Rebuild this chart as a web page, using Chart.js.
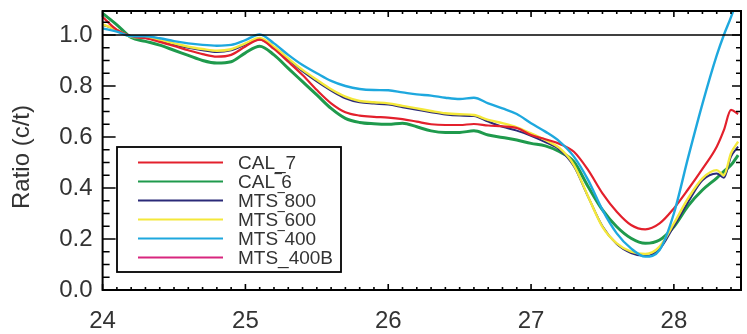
<!DOCTYPE html>
<html>
<head>
<meta charset="utf-8">
<script src="https://cdn.jsdelivr.net/npm/chart.js@4"></script>
<style>
  html, body { margin: 0; padding: 0; background: #ffffff; }
  #c { display: block; }
</style>
</head>
<body>
<canvas id="c" width="747" height="334"></canvas>
<script>
// ---- data ----
const xValues = [24.0,24.1,24.2,24.3,24.4,24.5,24.6,24.7,24.8,24.9,
                 25.0,25.1,25.2,25.3,25.4,25.5,25.6,25.7,25.8,25.9,
                 26.0,26.1,26.2,26.3,26.4,26.5,26.6,26.7,26.8,26.9,
                 27.0,27.1,27.2,27.3,27.4,27.5,27.6,27.7,27.8,27.9,
                 28.0,28.1,28.2,28.3,28.35,28.4,28.45];

const cal7 = [1.07,1.02,0.995,0.987,0.973,0.957,0.94,0.925,0.915,0.922,
              0.955,0.982,0.945,0.895,0.843,0.784,0.732,0.697,0.684,0.679,
              0.676,0.67,0.66,0.65,0.647,0.647,0.651,0.645,0.642,0.635,
              0.608,0.591,0.573,0.542,0.47,0.379,0.307,0.255,0.238,0.261,
              0.32,0.395,0.475,0.562,0.627,0.706,0.69];

const cal6 = [1.085,1.04,0.99,0.975,0.96,0.94,0.92,0.90,0.89,0.895,
              0.93,0.956,0.922,0.869,0.817,0.765,0.712,0.673,0.657,0.652,
              0.65,0.654,0.64,0.624,0.618,0.618,0.624,0.608,0.598,0.588,
              0.575,0.565,0.542,0.503,0.405,0.314,0.248,0.203,0.183,0.196,
              0.248,0.33,0.392,0.439,0.465,0.49,0.529];

const mts800 = [1.04,1.02,0.993,0.988,0.977,0.963,0.95,0.94,0.933,0.94,
                0.962,0.982,0.95,0.905,0.858,0.818,0.782,0.752,0.736,0.731,
                0.727,0.717,0.707,0.697,0.688,0.684,0.682,0.66,0.64,0.625,
                0.605,0.58,0.55,0.485,0.365,0.25,0.18,0.145,0.133,0.16,
                0.25,0.345,0.43,0.457,0.44,0.523,0.562];

const mts600 = [1.042,1.02,0.993,0.99,0.98,0.967,0.954,0.945,0.938,0.944,
                0.967,0.988,0.954,0.908,0.863,0.824,0.787,0.758,0.741,0.736,
                0.732,0.722,0.712,0.702,0.693,0.689,0.686,0.667,0.654,0.638,
                0.614,0.588,0.556,0.49,0.366,0.248,0.183,0.15,0.141,0.17,
                0.261,0.36,0.438,0.47,0.45,0.536,0.582];

const mts400 = [1.026,1.013,0.995,0.995,0.987,0.976,0.967,0.961,0.958,0.961,
                0.98,1.002,0.967,0.922,0.882,0.85,0.82,0.80,0.788,0.784,
                0.783,0.775,0.767,0.762,0.754,0.749,0.754,0.732,0.712,0.69,
                0.654,0.621,0.582,0.523,0.431,0.314,0.222,0.163,0.131,0.157,
                0.30,0.52,0.73,0.92,1.0,1.07,1.15];

const mts400b = []; // listed in the legend, not visible in the plot

const seriesLabels = ["CAL_7", "CAL\u203E6", "MTS\u203E800", "MTS\u203E600", "MTS\u203E400", "MTS_400B"];
const xTickValues = [24, 25, 26, 27, 28];
const yTickValues = [0.0, 0.2, 0.4, 0.6, 0.8, 1.0];
const yTitle = "Ratio (c/t)";
const refLineValue = 1.0;

// ---- styling ----
const colors = ["#e3202c", "#1f9a4c", "#2b2a78", "#f4e83a", "#1ea8de", "#d8267e"];
const widths = [2.2, 3.0, 2.0, 2.4, 2.4, 2.0];
const orders = [2, 5, 4, 3, 1, 6];
const FONT = "'Liberation Sans', Arial, Helvetica, sans-serif";
const TEXT = "#333333";

function pts(arr) { return arr.map((y, i) => ({ x: xValues[i], y: y })); }
const seriesData = [cal7, cal6, mts800, mts600, mts400, mts400b];

const datasets = seriesData.map((arr, i) => ({
  label: seriesLabels[i],
  data: pts(arr),
  borderColor: colors[i],
  backgroundColor: colors[i],
  borderWidth: widths[i],
  pointRadius: 0,
  fill: false,
  cubicInterpolationMode: 'monotone',
  order: orders[i]
}));

const framePlugin = {
  id: 'frame',
  afterDatasetsDraw(chart) {
    const ctx = chart.ctx;
    const a = chart.chartArea;
    const xs = chart.scales.x, ys = chart.scales.y;
    ctx.save();
    ctx.strokeStyle = "#000";
    // reference line
    ctx.lineWidth = 1.6;
    const yr = ys.getPixelForValue(refLineValue);
    ctx.beginPath(); ctx.moveTo(a.left, yr); ctx.lineTo(a.right, yr); ctx.stroke();
    // frame
    ctx.lineWidth = 2;
    ctx.strokeRect(a.left, a.top, a.right - a.left, a.bottom - a.top);
    // y ticks (minor every 0.05)
    ctx.lineWidth = 1.6;
    for (let i = 0; i <= 21; i++) {
      const v = i * 0.05;
      if (v > ys.max) break;
      const p = ys.getPixelForValue(v);
      const major = (i % 4 === 0);
      const lL = major ? 13 : 7, lR = major ? 9 : 5;
      ctx.beginPath();
      ctx.moveTo(a.left, p); ctx.lineTo(a.left + lL, p);
      ctx.moveTo(a.right, p); ctx.lineTo(a.right - lR, p);
      ctx.stroke();
    }
    // x ticks (minor every 0.1)
    for (let i = 0; i <= 45; i++) {
      const v = 24 + i * 0.1;
      if (v > xs.max + 1e-9) break;
      const p = xs.getPixelForValue(v);
      const major = (i % 10 === 0);
      const l = major ? 6 : 3;
      ctx.beginPath();
      ctx.moveTo(p, a.bottom); ctx.lineTo(p, a.bottom - l);
      ctx.moveTo(p, a.top); ctx.lineTo(p, a.top + l);
      ctx.stroke();
    }
    // y title
    ctx.fillStyle = TEXT;
    ctx.font = "24px " + FONT;
    ctx.textAlign = 'center';
    ctx.textBaseline = 'middle';
    ctx.translate(22, 157);
    ctx.rotate(-Math.PI / 2);
    ctx.fillText(yTitle, 0, 0);
    ctx.restore();

    // legend box
    ctx.save();
    const bx = 117, by = 147, bw = 224, bh = 125;
    ctx.fillStyle = "#fff";
    ctx.fillRect(bx, by, bw, bh);
    ctx.strokeStyle = "#000";
    ctx.lineWidth = 1.8;
    ctx.strokeRect(bx, by, bw, bh);
    ctx.font = "19px " + FONT;
    ctx.textAlign = 'left';
    ctx.textBaseline = 'middle';
    chart.data.datasets.forEach((ds, i) => {
      const y = 162.5 + i * 19;
      ctx.strokeStyle = ds.borderColor;
      ctx.lineWidth = 2;
      ctx.beginPath(); ctx.moveTo(138, y); ctx.lineTo(223, y); ctx.stroke();
      ctx.fillStyle = TEXT;
      ctx.fillText(ds.label, 238, y + 1);
    });
    ctx.restore();
  }
};

new Chart(document.getElementById('c'), {
  type: 'line',
  data: { datasets: datasets },
  options: {
    responsive: false,
    animation: false,
    devicePixelRatio: 1,
    layout: { padding: { top: 11, right: 6, left: 0, bottom: 0 } },
    plugins: { legend: { display: false }, tooltip: { enabled: false } },
    scales: {
      x: {
        type: 'linear',
        min: 24, max: 28.47,
        grid: { display: false, drawTicks: false },
        border: { display: false },
        afterBuildTicks: (s) => { s.ticks = xTickValues.map(v => ({ value: v })); },
        afterFit: (s) => { s.height = 44; s.paddingLeft = 0; s.paddingRight = 0; },
        ticks: {
          autoSkip: false, maxRotation: 0, padding: 17,
          color: TEXT, font: { family: FONT, size: 24 },
          callback: (v) => String(v)
        }
      },
      y: {
        type: 'linear',
        min: 0, max: 1.094,
        grid: { display: false, drawTicks: false },
        border: { display: false },
        afterBuildTicks: (s) => { s.ticks = yTickValues.map(v => ({ value: v })); },
        afterFit: (s) => { s.width = 102.6; s.paddingTop = 0; s.paddingBottom = 0; },
        ticks: {
          autoSkip: false, padding: 10,
          color: TEXT, font: { family: FONT, size: 24 },
          callback: (v) => Number(v).toFixed(1)
        }
      }
    }
  },
  plugins: [framePlugin]
});
</script>
</body>
</html>
